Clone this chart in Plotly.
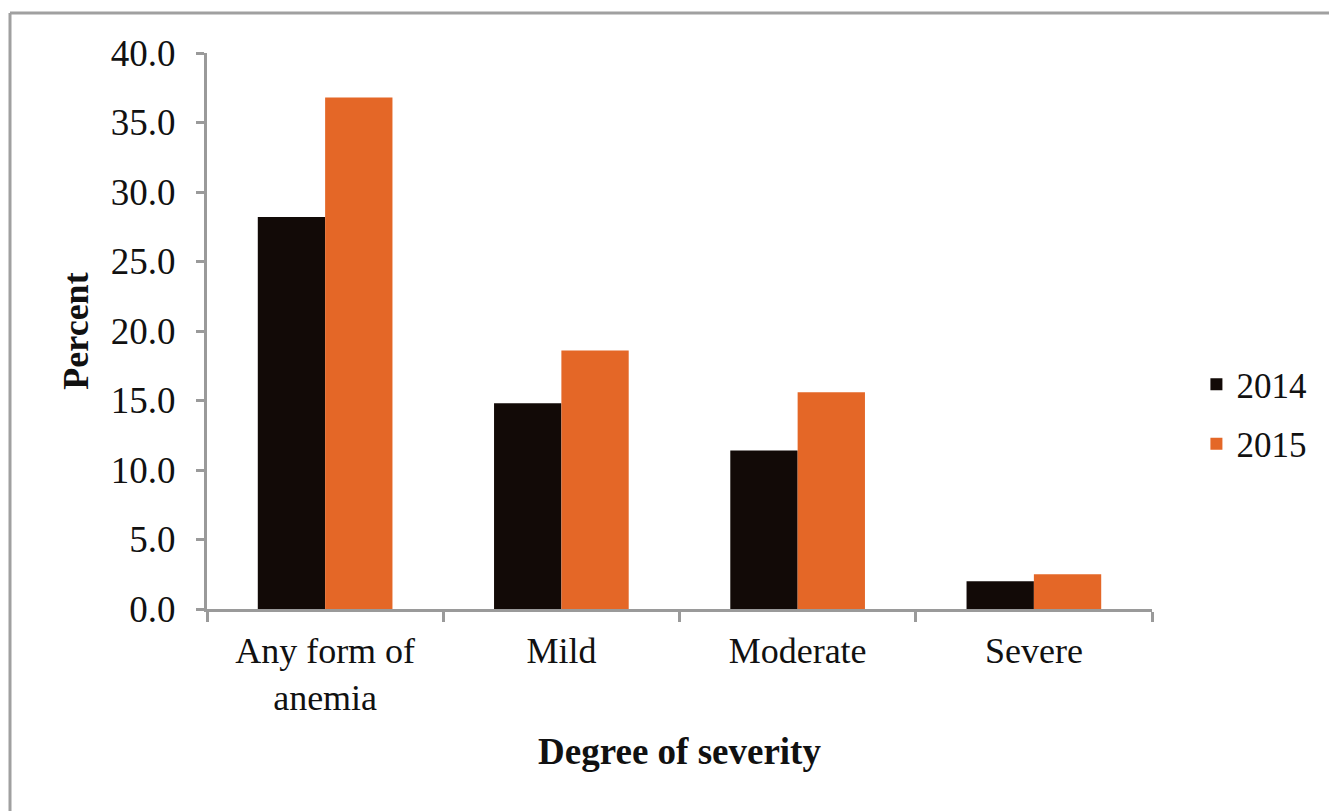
import plotly.graph_objects as go

categories = ["Any form of<br>anemia", "Mild", "Moderate", "Severe"]
years = ["2014", "2015"]
values_2014 = [28.2, 14.8, 11.4, 2.0]
values_2015 = [36.8, 18.6, 15.6, 2.5]
tick_vals = [0, 5, 10, 15, 20, 25, 30, 35, 40]
tick_text = ["0.0", "5.0", "10.0", "15.0", "20.0", "25.0", "30.0", "35.0", "40.0"]

colors = {"2014": "#120a07", "2015": "#e46727"}
font_family = "Liberation Serif"

# figure placed at page offset (8, 8) by the default body margin
W, H = 1329, 803
OX, OY = 8, 8
plot_l, plot_r, plot_t, plot_b = 207, 1152, 53, 609

fig = go.Figure()
for yr, vals in zip(years, [values_2014, values_2015]):
    fig.add_trace(go.Bar(
        x=categories, y=vals, name=yr, legendgroup=yr,
        marker=dict(color=colors[yr], line=dict(width=0)),
    ))

pw = plot_r - plot_l
ph = plot_b - plot_t
border_col = "#a0a0a0"

fig.update_layout(
    barmode="group",
    bargap=0.43,
    bargroupgap=0,
    width=W, height=H,
    margin=dict(l=plot_l - OX, r=W + OX - plot_r, t=plot_t - OY, b=H + OY - plot_b),
    paper_bgcolor="white", plot_bgcolor="white",
    font=dict(family=font_family, size=36, color="#111111"),
    legend=dict(
        x=1.047, y=(plot_b - 414) / ph, xanchor="left", yanchor="middle",
        traceorder="grouped", tracegroupgap=11,
        font=dict(size=35), itemwidth=30,
    ),
    xaxis=dict(
        showline=True, linecolor="#9a9a9a", linewidth=3,
        ticks="outside", tickson="boundaries", ticklen=10, tickwidth=3, tickcolor="#9a9a9a",
        ticklabelstandoff=8,
        tickfont=dict(size=36),
        title=dict(text="<b>Degree of severity</b>", font=dict(size=37), standoff=22),
    ),
    yaxis=dict(
        range=[0, 40], tickvals=tick_vals, ticktext=tick_text,
        showline=True, linecolor="#9a9a9a", linewidth=3,
        ticks="outside", ticklen=8, tickwidth=3, tickcolor="#9a9a9a",
        ticklabelstandoff=13,
        showgrid=False, zeroline=False,
        tickfont=dict(size=37),
        title=dict(text="<b>Percent</b>", font=dict(size=36), standoff=12),
    ),
    shapes=[
        dict(type="line", xref="paper", yref="paper",
             x0=(10 - plot_l) / pw, x1=(1340 - plot_l) / pw,
             y0=(plot_b - 13) / ph, y1=(plot_b - 13) / ph,
             line=dict(color=border_col, width=3), layer="below"),
        dict(type="line", xref="paper", yref="paper",
             x0=(10 - plot_l) / pw, x1=(10 - plot_l) / pw,
             y0=(plot_b - 815) / ph, y1=(plot_b - 13) / ph,
             line=dict(color=border_col, width=3), layer="below"),
    ],
)

fig.write_html("out.html")
